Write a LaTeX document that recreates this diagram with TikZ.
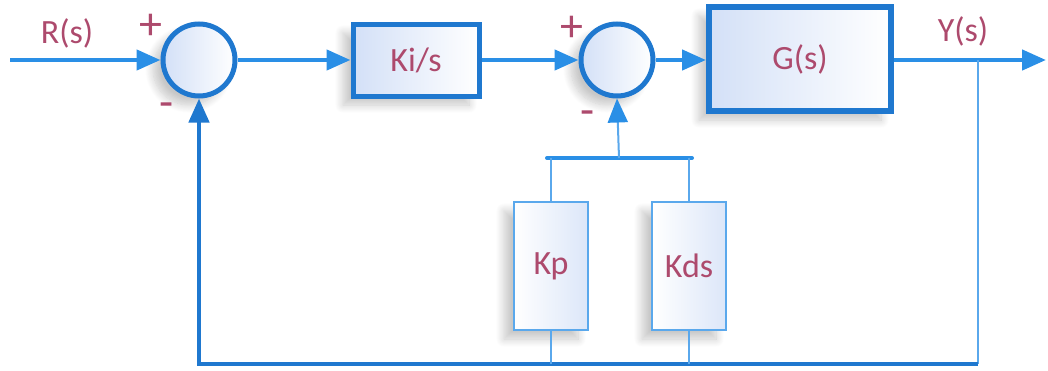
\documentclass[tikz,border=0pt]{standalone}
\usepackage{fontspec}
\setmainfont{Carlito}
\usepackage{tikz}
\usetikzlibrary{arrows.meta,shapes,positioning,shadows.blur}

\definecolor{linkblue}{HTML}{2A8FE6}
\definecolor{edgeblue}{HTML}{1F78CF}
\definecolor{thinblue}{HTML}{5AA8EC}
\definecolor{labelred}{HTML}{AD4A6D}
\definecolor{boxfill}{HTML}{D3E0F7}

\tikzset{
  softshadow/.style={blur shadow={shadow xshift=-10pt, shadow yshift=-9pt, shadow opacity=22, shadow blur steps=12, shadow blur radius=8pt}},
  sumnode/.style={circle, draw=edgeblue, line width=5pt, minimum size=72pt, inner sep=0pt, left color=boxfill, right color=white, softshadow},
  blocknode/.style={rectangle, draw=edgeblue, line width=5pt, left color=boxfill, right color=white, text=labelred, inner sep=0pt, font=\fontsize{34}{40}\selectfont, softshadow},
  gainnode/.style={blocknode, draw=thinblue, line width=2pt, left color=white, right color=boxfill!80, minimum width=74pt, minimum height=128pt},
  sig/.style={text=labelred, font=\fontsize{34}{40}\selectfont, inner sep=0pt},
  signmark/.style={sig, font=\fontsize{46}{50}\selectfont},
  flow/.style={draw=linkblue, line width=4.5pt, -{Triangle[length=24pt,width=20pt]}},
  wire/.style={draw=thinblue, line width=2pt},
}

\begin{document}
\begin{tikzpicture}[x=1pt, y=-1pt]
  \useasboundingbox (0,0) rectangle (1048,370);

  % blocks
  \node[sumnode] (sumA) at (199,60) {};
  \node[blocknode, minimum width=126pt, minimum height=72pt] (ki) at (416,60) {Ki/s};
  \node[sumnode] (sumB) at (617,60) {};
  \node[blocknode, line width=6pt, minimum width=182pt, minimum height=104pt] (plant) at (800,59) {G(s)};
  \node[gainnode] (kp) at (551,266) {Kp};
  \node[gainnode] (kd) at (689,266) {Kds};

  % signal labels and signs
  \node[sig] (rlabel) at (67,33) {R(s)};
  \node[sig] (ylabel) at (963,31) {Y(s)};
  \node[signmark] (plusA) at (151,27) {+};
  \node[signmark] (minusA) at (167,110) {-};
  \node[signmark] (plusB) at (572,29) {+};
  \node[signmark] (minusB) at (588,118) {-};

  \coordinate (in) at (10,60);
  \coordinate (out) at (1046,60);
  \coordinate (tap) at (978,60);
  \coordinate (base) at (978,364);
  \coordinate (bar) at (619,158);
  \coordinate (barL) at (547,158);
  \coordinate (barR) at (692,158);

  % forward path
  \draw[flow] (in) -- (sumA);
  \draw[flow] (sumA) -- (ki);
  \draw[flow] (ki) -- (sumB);
  \draw[flow] (sumB) -- (sumB -| plant.west);
  \draw[flow] (plant.east |- out) -- (out);

  % feedback
  \draw[wire] (tap) -- (base);
  \draw[flow, draw=edgeblue] (base) -| (sumA.south);
  \draw[draw=linkblue, line width=4pt, line cap=round] (barL) -- (barR);
  \draw[wire, -{Triangle[length=24pt,width=20pt,color=linkblue]}] (bar) -- (sumB.south);
  \draw[wire] (kp.north) -- (kp.north |- bar);
  \draw[wire] (kd.north) -- (kd.north |- bar);
  \draw[wire] (kp.south) -- (kp.south |- base);
  \draw[wire] (kd.south) -- (kd.south |- base);
\end{tikzpicture}
\end{document}
